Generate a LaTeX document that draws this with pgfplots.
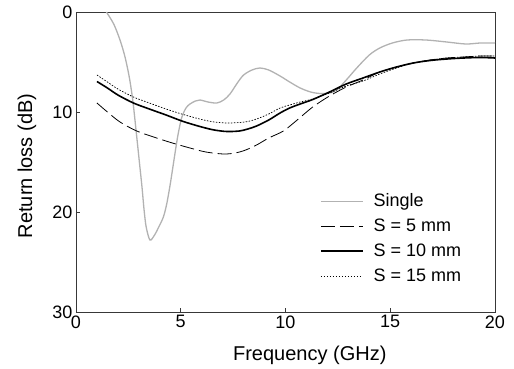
\documentclass[border=0pt]{standalone}
\usepackage{fontspec}
\setmainfont{Liberation Sans}
\usepackage{pgfplots}
\pgfplotsset{compat=1.18}
\definecolor{singlegray}{RGB}{178,178,178}
\begin{document}
\begin{tikzpicture}
\useasboundingbox (-76pt,-57pt) rectangle (438pt,312pt);
\begin{axis}[at={(0,0)}, anchor=south west, scale only axis, width=419pt, height=300pt,
 xmin=0, xmax=20, ymin=0, ymax=30, y dir=reverse,
 xtick={0,5,10,15,20}, ytick={0,10,20,30},
 tick align=inside, major tick length=4pt, xtick pos=bottom, ytick pos=left,
 axis line style={black!78, line width=0.8pt}, tick style={black!78, line width=0.8pt},
 tick label style={font=\fontsize{18}{21}\selectfont},
 /pgf/number format/assume math mode=true,
 xlabel={Frequency (GHz)}, ylabel={Return loss (dB)},
 label style={font=\fontsize{20}{24}\selectfont},
 xlabel style={at={(axis description cs:0.558,-0.143)}, anchor=center},
 ylabel style={at={(axis description cs:-0.117,0.487)}, anchor=center},
 legend cell align=left,
 legend image code/.code={\draw[#1] (0pt,0pt) -- (42pt,0pt);},
 legend style={at={(axis description cs:0.582,0.40)}, anchor=north west, draw=none, fill=none,
   inner sep=0pt, row sep=7pt, font=\fontsize{18}{21}\selectfont,
   nodes={inner sep=0pt, text height=14pt, text depth=4pt},
   /tikz/every odd column/.append style={column sep=10pt}},
]
\addplot[singlegray, line width=1.3pt, smooth] coordinates {
(1.45,0) (1.8,1.2) (2.1,2.8) (2.34,4.5) (2.55,6.6) (2.72,9.0) (2.9,12.5) (3.05,15.5) (3.15,17.5) (3.25,19.8) (3.35,21.5) (3.53,22.8) (3.75,22.3) (3.95,21.5) (4.17,20.5) (4.33,19.2) (4.5,17.2) (4.64,15.3) (4.85,12.5) (5.04,10.6) (5.25,9.6) (5.44,9.2) (5.7,8.9) (5.92,8.8) (6.3,9.0) (6.72,9.1) (7.05,8.8) (7.35,8.2) (7.7,7.1) (8.0,6.3) (8.4,5.8) (8.78,5.6) (9.2,5.8) (9.74,6.4) (10.2,7.0) (10.7,7.6) (11.2,8.0) (11.65,8.15) (12.1,8.1) (12.44,7.8) (12.9,6.8) (13.4,5.6) (14.0,4.3) (14.5,3.6) (15.1,3.1) (15.8,2.8) (16.7,2.8) (17.7,3.0) (18.6,3.2) (19.3,3.1) (20,3.1)
};
\addlegendentry{Single}
\addplot[black, line width=0.8pt, dash pattern=on 14pt off 5pt, smooth] coordinates {
(1,9.1) (1.5,10.0) (2.1,11.0) (2.9,11.9) (3.85,12.6) (4.6,13.1) (5.44,13.6) (6.2,14.0) (7.03,14.2) (7.6,14.1) (8.1,13.8) (8.62,13.3) (9.2,12.6) (9.9,11.9) (10.5,10.9) (11.3,9.5) (12.1,8.4) (12.9,7.5) (13.7,6.8) (14.5,6.0) (15.3,5.5) (16.1,5.1) (16.9,4.8) (17.7,4.6) (18.5,4.5) (19.3,4.4) (20,4.4)
};
\addlegendentry{S = 5 mm}
\addplot[black, line width=1.6pt, smooth] coordinates {
(1,6.95) (1.5,7.6) (2.0,8.3) (2.74,9.1) (3.5,9.7) (4.3,10.3) (5.12,10.95) (6.0,11.5) (6.6,11.8) (7.2,11.95) (7.8,11.9) (8.2,11.7) (8.62,11.4) (9.2,10.8) (9.74,10.1) (10.2,9.6) (10.7,9.2) (11.3,8.75) (12.1,8.0) (12.9,7.2) (13.7,6.6) (14.5,6.0) (15.3,5.5) (16.1,5.1) (16.9,4.85) (17.7,4.7) (18.5,4.6) (19.3,4.55) (20,4.6)
};
\addlegendentry{S = 10 mm}
\addplot[black, line width=0.7pt, dash pattern=on 1.5pt off 1.5pt, smooth] coordinates {
(1,6.3) (1.5,7.0) (2.0,7.7) (2.74,8.5) (3.5,9.1) (4.3,9.7) (5.12,10.25) (6.0,10.75) (6.6,11.0) (7.2,11.1) (7.8,11.05) (8.2,10.95) (8.62,10.7) (9.2,10.2) (9.74,9.6) (10.2,9.3) (10.7,9.0) (11.3,8.7) (12.1,8.1) (12.9,7.4) (13.7,6.9) (14.5,6.2) (15.3,5.6) (16.1,5.1) (16.9,4.8) (17.7,4.6) (18.5,4.5) (19.3,4.4) (20,4.4)
};
\addlegendentry{S = 15 mm}
\end{axis}
\end{tikzpicture}
\end{document}
